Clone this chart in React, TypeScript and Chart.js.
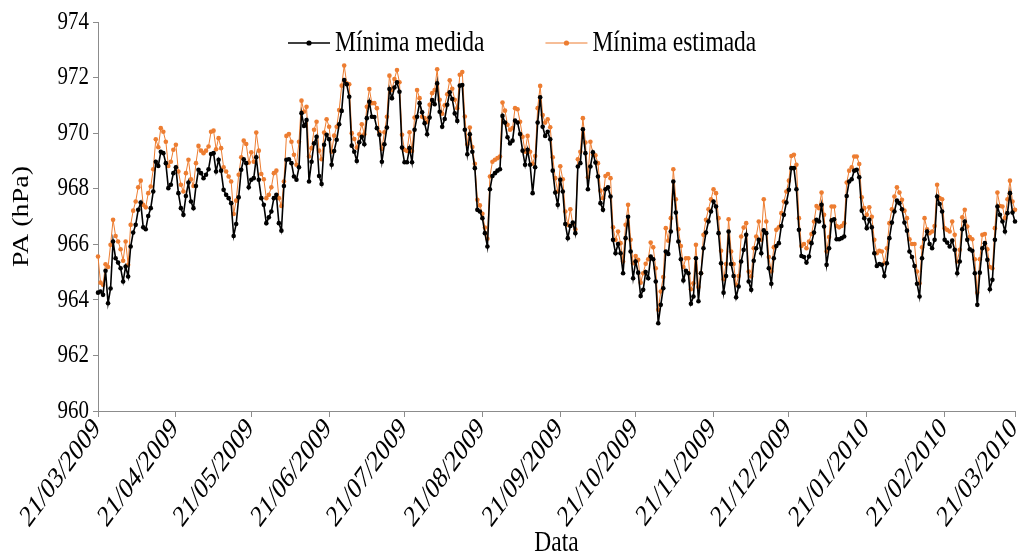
import React, { useEffect, useRef } from 'react';
import { Chart, registerables } from 'chart.js';

Chart.register(...registerables);

// Daily series, 21/03/2009 .. 21/03/2010 (366 days)
const MEDIDA: number[] = [
  964.26, 964.30, 964.18, 965.05, 963.88, 964.41, 966.10, 965.50, 965.34, 965.14, 964.66, 965.20, 964.84, 965.92, 966.42, 966.70, 967.24, 967.50, 966.61, 966.54, 967.02, 967.30, 967.90, 968.97, 968.82, 969.33, 969.28, 968.92, 968.02, 968.14, 968.56,
  968.77, 967.84, 967.30, 967.06, 967.74, 968.22, 967.54, 967.30, 968.10, 968.68, 968.56, 968.38, 968.50, 968.70, 969.25, 969.28, 968.62, 969.04, 968.65, 967.96, 967.78, 967.66, 967.48, 966.30, 966.73, 967.69, 968.68, 969.06, 968.92, 968.05,
  968.32, 968.38, 969.13, 968.32, 967.66, 967.42, 966.76, 966.97, 967.18, 967.66, 967.78, 966.76, 966.49, 968.10, 969.04, 969.06, 968.92, 968.44, 968.32, 968.77, 970.72, 970.26, 970.47, 968.26, 968.97, 969.63, 969.87, 968.46, 968.17, 969.58, 969.94, 969.78,
  968.86, 969.36, 969.76, 970.32, 970.80, 971.91, 971.76, 971.31, 969.55, 969.33, 969.00, 969.67, 969.87, 969.60, 970.54, 971.13, 970.59, 970.58, 970.18, 969.94, 968.97, 969.60, 970.20, 971.59, 971.26, 971.64, 971.83, 971.49, 969.48, 968.95, 968.95, 969.46,
  968.95, 970.12, 970.59, 971.08, 970.75, 970.36, 969.96, 970.56, 971.19, 971.04, 971.79, 970.77, 970.23, 970.51, 971.02, 971.47, 971.23, 970.71, 970.44, 971.71, 971.73, 970.12, 969.24, 969.96, 969.33, 968.74, 967.24, 967.18, 966.94, 966.40, 965.92,
  967.98, 968.46, 968.56, 968.65, 968.70, 970.62, 970.38, 969.85, 969.63, 969.73, 970.45, 970.38, 969.97, 969.37, 968.86, 969.40, 968.86, 967.84, 968.77, 970.38, 971.29, 970.23, 969.90, 970.05, 969.78, 968.65, 967.86, 967.42, 968.32, 967.90, 966.73, 966.22,
  966.66, 966.78, 966.40, 968.80, 968.92, 970.14, 969.28, 967.98, 968.80, 969.31, 968.94, 968.44, 967.48, 967.24, 967.98, 968.05, 967.72, 966.16, 965.68, 966.01, 965.68, 964.96, 966.22, 966.99, 965.74, 964.78, 965.38, 964.98, 964.14, 964.36, 965.00,
  964.78, 965.56, 965.46, 964.66, 963.16, 963.82, 964.42, 965.74, 965.65, 966.46, 968.26, 967.14, 966.10, 965.46, 964.70, 965.05, 964.96, 963.86, 964.12, 965.50, 963.95, 964.96, 965.86, 966.42, 966.82, 967.18, 967.54, 967.36, 966.40, 965.32,
  964.26, 964.86, 966.46, 965.29, 964.86, 964.09, 964.48, 965.38, 965.80, 966.34, 964.66, 964.36, 965.41, 965.86, 966.16, 965.68, 966.50, 966.40, 965.14, 964.58, 965.50, 965.94, 966.04, 966.66, 967.06, 967.50, 967.96, 968.74, 968.74, 967.98, 966.52,
  965.58, 965.54, 965.34, 965.56, 966.04, 966.42, 966.88, 966.82, 967.42, 966.64, 965.26, 965.86, 966.86, 966.90, 966.18, 966.18, 966.22, 966.28, 967.74, 968.26, 968.34, 968.65, 968.68, 968.41, 967.21, 966.94, 966.58, 966.88, 966.61, 965.68, 965.22, 965.29,
  965.26, 964.86, 965.32, 966.22, 966.78, 967.18, 967.57, 967.48, 967.26, 966.78, 966.49, 965.74, 965.54, 965.22, 964.58, 964.12, 965.50, 966.18, 966.46, 966.01, 965.86, 966.16, 967.72, 967.45, 967.18, 966.16, 966.06, 965.92, 966.13, 965.80,
  964.96, 965.38, 966.54, 966.82, 966.16, 965.82, 965.77, 964.96, 963.82, 964.98, 965.86, 966.04, 965.44, 964.38, 964.72, 966.16, 967.36, 967.06, 966.82, 966.46, 967.12, 967.84, 967.14, 966.82,
];

const ESTIMADA: number[] = [
  965.56, 964.62, 964.54, 965.28, 965.18, 965.98, 966.88, 966.30, 966.10, 965.82, 965.41, 966.10, 965.26, 966.70, 967.21, 967.54, 968.05, 968.29, 967.42, 967.33, 967.84, 968.08, 968.70, 969.78, 969.49, 970.18, 970.05, 969.69, 968.82, 968.97, 969.40,
  969.58, 968.62, 968.14, 967.90, 968.56, 969.04, 968.34, 968.10, 968.92, 969.54, 969.37, 969.28, 969.37, 969.52, 970.05, 970.09, 969.42, 969.82, 969.46, 968.77, 968.62, 968.44, 968.26, 967.09, 967.57, 968.50, 969.13, 969.73, 969.61, 968.94,
  969.31, 968.97, 970.02, 969.37, 968.53, 968.34, 967.66, 967.78, 968.05, 968.56, 968.65, 967.66, 967.38, 968.26, 969.90, 969.97, 969.69, 969.22, 968.86, 969.69, 971.17, 970.77, 970.95, 969.16, 969.46, 970.12, 970.41, 969.37, 969.06, 970.02, 970.50, 970.23,
  969.33, 969.91, 970.23, 970.83, 971.71, 972.43, 971.79, 971.76, 970.00, 969.79, 969.48, 969.96, 970.32, 969.96, 970.95, 971.59, 971.08, 971.08, 970.90, 970.03, 969.43, 970.03, 970.59, 972.07, 971.55, 971.95, 972.27, 971.83, 969.94, 969.40, 969.36, 970.03,
  969.36, 970.56, 971.55, 971.26, 970.59, 970.54, 970.40, 971.02, 971.44, 971.55, 972.30, 971.20, 970.70, 971.00, 971.40, 971.90, 971.60, 971.20, 970.90, 972.10, 972.20, 970.60, 969.60, 970.20, 969.50, 968.90, 967.60, 967.40, 967.10, 966.60, 966.20,
  968.44, 968.97, 969.04, 969.10, 969.16, 971.10, 970.81, 970.30, 970.12, 970.18, 970.90, 970.86, 970.41, 969.87, 969.33, 969.90, 969.33, 968.90, 969.18, 970.90, 971.70, 970.65, 970.38, 970.50, 970.21, 969.13, 968.38, 967.90, 968.81, 968.34, 967.18, 966.70,
  967.26, 966.73, 966.54, 969.06, 969.33, 970.54, 969.66, 968.41, 969.69, 969.25, 969.20, 968.92, 967.93, 967.66, 968.46, 968.53, 968.38, 966.61, 966.16, 966.46, 966.04, 965.38, 966.70, 967.42, 966.16, 965.32, 965.58, 965.44, 964.62, 964.96, 965.30,
  965.46, 966.06, 965.89, 965.14, 963.64, 964.30, 964.82, 966.58, 966.13, 966.94, 968.70, 967.62, 966.54, 965.94, 965.18, 965.50, 965.50, 964.38, 964.60, 965.98, 964.46, 964.96, 966.34, 966.88, 967.26, 967.62, 967.98, 967.84, 966.94, 965.77,
  964.74, 965.29, 966.90, 965.74, 965.29, 964.54, 964.86, 966.28, 966.60, 966.76, 965.02, 964.84, 965.86, 966.28, 966.82, 966.16, 967.62, 966.82, 965.54, 965.02, 965.89, 966.52, 966.61, 967.12, 967.54, 967.90, 968.29, 969.18, 969.22, 968.86, 966.94,
  965.94, 966.01, 965.86, 966.10, 966.37, 966.82, 967.38, 967.30, 967.86, 967.06, 965.74, 966.26, 967.36, 967.36, 966.66, 966.61, 966.66, 966.76, 968.22, 968.65, 968.77, 969.16, 969.16, 968.89, 967.69, 967.30, 967.06, 967.33, 966.99, 966.16, 965.68, 965.77,
  965.74, 965.32, 965.86, 966.76, 967.26, 967.72, 968.05, 967.86, 967.60, 967.21, 966.94, 966.18, 966.01, 966.01, 965.02, 964.60, 965.89, 966.94, 966.54, 966.40, 966.46, 966.66, 968.14, 967.66, 967.62, 966.58, 966.52, 966.46, 966.82, 966.34,
  965.38, 965.80, 966.97, 967.24, 966.64, 966.26, 966.18, 965.46, 964.26, 965.46, 966.34, 966.37, 965.82, 965.18, 965.14, 966.58, 967.86, 967.38, 967.36, 966.94, 967.62, 968.29, 967.54, 967.24,
];

const SERIES_NAMES = ['Mínima medida', 'Mínima estimada'];

const TICK_LABELS = [
  '21/03/2009', '21/04/2009', '21/05/2009', '21/06/2009', '21/07/2009', '21/08/2009',
  '21/09/2009', '21/10/2009', '21/11/2009', '21/12/2009', '21/01/2010', '21/02/2010', '21/03/2010',
];

const Y_MIN = 960;
const Y_MAX = 974;
const Y_STEP = 2;

const X_TITLE = 'Data';
const Y_TITLE = 'PA (hPa)';

const pad2 = (n: number) => (n < 10 ? '0' + n : String(n));
const CATEGORIES: string[] = MEDIDA.map((_, i) => {
  const d = new Date(2009, 2, 21 + i);
  return `${pad2(d.getDate())}/${pad2(d.getMonth() + 1)}/${d.getFullYear()}`;
});

const FONT = "'Liberation Serif', 'Times New Roman', serif";
const ORANGE = '#ED7D31';
const AXIS = '#8C8C8C';
const STRETCH = 1.22; // reference text is vertically elongated

function drawText(
  ctx: CanvasRenderingContext2D,
  text: string,
  x: number,
  y: number,
  size: number,
  align: CanvasTextAlign,
  angle = 0,
  stretch = STRETCH,
) {
  ctx.save();
  ctx.translate(x, y);
  ctx.scale(1, stretch);
  if (angle) ctx.rotate(angle);
  ctx.font = `${size}px ${FONT}`;
  ctx.fillStyle = '#000';
  ctx.textAlign = align;
  ctx.textBaseline = 'middle';
  ctx.fillText(text, 0, 0);
  ctx.restore();
}

const textPlugin = {
  id: 'stretchedText',
  afterDraw(chart: any) {
    const { ctx, chartArea, scales } = chart;
    const xs = scales.x;
    const ys = scales.y;
    // y tick labels
    ys.ticks.forEach((t: any) => {
      drawText(ctx, String(t.value), chartArea.left - 9, ys.getPixelForValue(t.value), 21, 'right');
    });
    // x tick labels (rotated)
    xs.ticks.forEach((t: any) => {
      drawText(ctx, CATEGORIES[t.value], xs.getPixelForValue(t.value) - 1, xs.top + 13, 22.5, 'right', -Math.PI / 4, 1.36);
    });
    // x title
    drawText(ctx, X_TITLE, (chartArea.left + chartArea.right) / 2, 543, 23.5, 'center');
    // y title (rotated, elongated along its length)
    ctx.save();
    ctx.translate(22, (chartArea.top + chartArea.bottom) / 2);
    ctx.scale(1, STRETCH);
    ctx.rotate(-Math.PI / 2);
    ctx.font = `23px ${FONT}`;
    ctx.fillStyle = '#000';
    ctx.textAlign = 'center';
    ctx.textBaseline = 'middle';
    ctx.fillText(Y_TITLE, 0, 0);
    ctx.restore();
    // legend inside plot area
    const y = chartArea.top + 21;
    let x = chartArea.left + 190;
    chart.data.datasets.forEach((ds: any) => {
      ctx.save();
      ctx.strokeStyle = ds.borderColor;
      ctx.lineWidth = ds.borderWidth;
      ctx.beginPath();
      ctx.moveTo(x, y);
      ctx.lineTo(x + 42, y);
      ctx.stroke();
      ctx.fillStyle = ds.pointBackgroundColor;
      ctx.beginPath();
      ctx.arc(x + 21, y, ds.pointRadius + 0.3, 0, Math.PI * 2);
      ctx.fill();
      ctx.font = `23.5px ${FONT}`;
      const w = ctx.measureText(ds.label).width;
      ctx.restore();
      drawText(ctx, ds.label, x + 47, y, 23.5, 'left');
      x += 47 + w + 61;
    });
  },
};

export default function App() {
  const ref = useRef<HTMLCanvasElement | null>(null);

  useEffect(() => {
    if (!ref.current) return;
    const chart = new Chart(ref.current, {
      type: 'line',
      data: {
        labels: CATEGORIES,
        datasets: [
          {
            label: SERIES_NAMES[0],
            data: MEDIDA,
            borderColor: '#000000',
            backgroundColor: '#000000',
            pointBackgroundColor: '#000000',
            pointBorderWidth: 0,
            pointRadius: 2.3,
            borderWidth: 1.6,
            tension: 0,
          },
          {
            label: SERIES_NAMES[1],
            data: ESTIMADA,
            borderColor: ORANGE,
            backgroundColor: ORANGE,
            pointBackgroundColor: ORANGE,
            pointBorderWidth: 0,
            pointRadius: 2.3,
            borderWidth: 1,
            tension: 0,
          },
        ],
      },
      options: {
        animation: false,
        responsive: false,
        devicePixelRatio: 1,
        layout: { padding: { left: 0, top: 22, right: 5, bottom: 0 } },
        plugins: {
          legend: { display: false },
          tooltip: { enabled: false },
        },
        scales: {
          x: {
            type: 'category',
            offset: false,
            afterBuildTicks: (scale: any) => {
              scale.ticks = scale.ticks.filter((t: any) => TICK_LABELS.includes(CATEGORIES[t.value]));
            },
            afterFit: (scale: any) => {
              scale.height = 144;
              scale.paddingLeft = 0;
              scale.paddingRight = 0;
            },
            ticks: { display: false, autoSkip: false },
            grid: { display: true, drawOnChartArea: false, drawTicks: true, tickLength: 6, color: AXIS },
            border: { display: true, color: AXIS, width: 1 },
            title: { display: false },
          },
          y: {
            min: Y_MIN,
            max: Y_MAX,
            afterFit: (scale: any) => {
              scale.width = 98;
              scale.paddingTop = 0;
              scale.paddingBottom = 0;
            },
            ticks: { display: false, stepSize: Y_STEP },
            grid: { display: true, drawOnChartArea: false, drawTicks: true, tickLength: 5, color: AXIS },
            border: { display: true, color: AXIS, width: 1 },
            title: { display: false },
          },
        },
      },
      plugins: [textPlugin],
    } as any);
    return () => chart.destroy();
  }, []);

  return (
    <div style={{ position: 'fixed', left: 0, top: 0, width: 1020, height: 555, background: '#fff' }}>
      <canvas ref={ref} width={1020} height={555} style={{ display: 'block', width: 1020, height: 555 }} />
    </div>
  );
}
